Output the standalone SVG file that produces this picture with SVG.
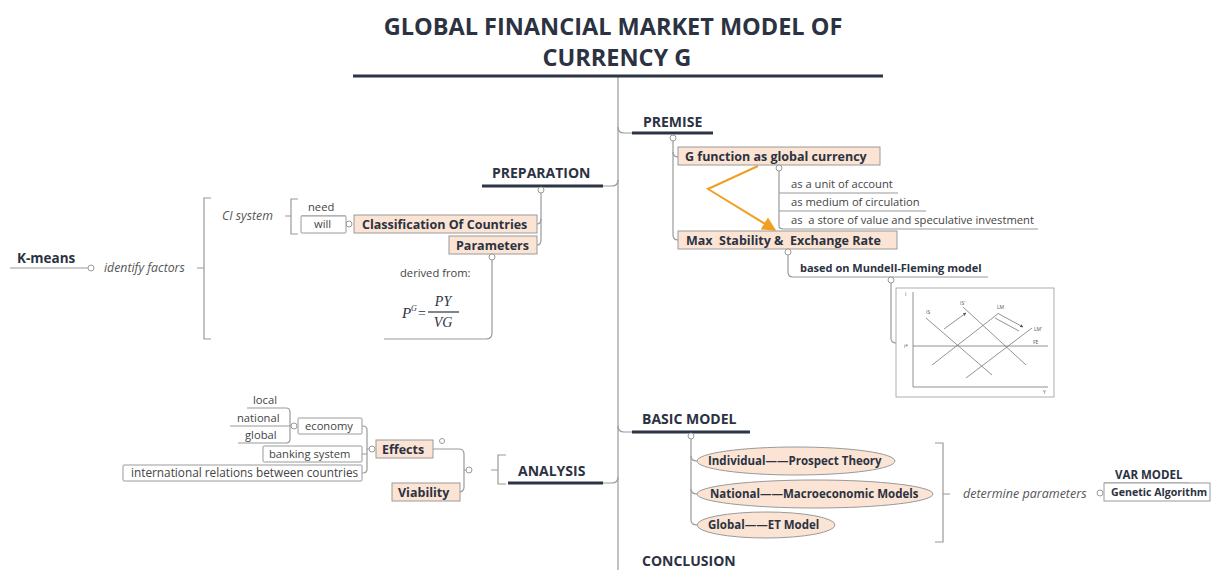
<svg xmlns="http://www.w3.org/2000/svg" width="1211" height="570" viewBox="0 0 1211 570">
<style>
text{font-family:"Open Sans","Liberation Sans",sans-serif;fill:#2b3242}
.title{font-size:23.5px;font-weight:bold;text-anchor:middle}
.main{font-size:14px;font-weight:bold}
.bt{font-size:12.5px;font-weight:bold}
.et{font-size:11.5px;font-weight:bold}
.st{font-size:11.2px;fill:#444}
.it{font-size:12.3px;font-style:italic;fill:#555}
.box{fill:#fbe4d3;stroke:#9a9a9a;stroke-width:1}
.wbox{fill:#fff;stroke:#9a9a9a;stroke-width:1}
.ln{fill:none;stroke:#9a9a9a;stroke-width:1.2}
.ul{stroke:#2b3545;stroke-width:3}
.dot{fill:#fff;stroke:#9a9a9a;stroke-width:1}
.g{fill:none;stroke:#777;stroke-width:0.8}
.gl{font-size:5px;fill:#555}
.mf{font-family:"Liberation Serif",serif;font-style:italic;font-size:14px}
</style>
<defs>
<marker id="oa" viewBox="0 0 10 10" refX="9" refY="5" markerWidth="7" markerHeight="7" orient="auto"><path d="M0,0 L10,5 L0,10 z" fill="#f0a020"/></marker>
<marker id="ga" viewBox="0 0 10 10" refX="9" refY="5" markerWidth="4" markerHeight="4" orient="auto"><path d="M0,0 L10,5 L0,10 z" fill="#555"/></marker>
</defs>
<rect width="1211" height="570" fill="#fff"/>

<g id="connectors">
<path class="ln" d="M618,76 V570"/>
<path class="ln" d="M618,127 Q618,133 624,133 H632"/>
<path class="ln" d="M603,186 H612 Q618,186 618,180"/>
<path class="ln" d="M603,483 H612 Q618,483 618,477"/>
<path class="ln" d="M618,426 Q618,432 624,432 H632"/>
<path class="ln" d="M673,141 V235 Q673,240 678,240"/>
<path class="ln" d="M673,152 Q673,157 678,157"/>
<path class="ln" d="M779,171 V226 Q779,229 784,229 H1038"/>
<path class="ln" d="M779,193 H898 M779,211 H926"/>
<path class="ln" d="M788,255 V272 Q788,277 793,277 H988"/>
<path class="ln" d="M891,283 V338 Q891,343 896,343"/>
<path d="M758,166 L708,189 L775,230" fill="none" stroke="#f0a020" stroke-width="2" marker-end="url(#oa)"/>
<path class="ln" d="M541,193 V240 Q541,245 537,245"/>
<path class="ln" d="M541,219 Q541,224 537,224"/>
<path class="ln" d="M492,260 V333 Q492,339 486,339 H384"/>
<path class="ln" d="M301,216 H346"/>
<path class="ln" d="M298,199 H291 V234 H298 M285,216 H291"/>
<path class="ln" d="M211,198 H204 V339 H211 M197,268 H204"/>
<path class="ln" d="M10,268 H88"/>
<path class="ln" d="M506,455 H498 V484 H506 M491,470 H498"/>
<path class="ln" d="M433,449 H459 Q464,449 464,454 V487 Q464,492 459,492 H460"/>
<path class="ln" d="M464,470 H466"/>
<path class="ln" d="M362,426 H363 Q367,426 367,430 V469 Q367,473 363,473 H362 M362,454 H367 M367,449 H369"/>
<path class="ln" d="M247,408 H286 Q290,408 290,412 V439 Q290,443 286,443 H238 M230,426 H291"/>
<path class="ln" d="M691,439 V520 Q691,525 697,525"/>
<path class="ln" d="M691,456 Q691,461 697,461 M691,489 Q691,494 697,494"/>
<path class="ln" d="M935,443 H943 V542 H935 M943,494 H950"/>
<path class="ln" d="M1104,483 H1189"/>
</g>

<g id="title">
<text class="title" x="613" y="35">GLOBAL FINANCIAL MARKET MODEL OF</text>
<text class="title" x="617" y="66">CURRENCY G</text>
<line class="ul" x1="353" y1="76" x2="883" y2="76"/>
</g>

<g id="premise">
<text class="main" x="643" y="127">PREMISE</text>
<line class="ul" x1="632" y1="133" x2="713" y2="133"/>
<circle class="dot" cx="673" cy="138" r="3"/>
</g>
<g id="g-function">
<rect class="box" x="678" y="147" width="202" height="18"/>
<text class="bt" x="685" y="160.5">G function as global currency</text>
<circle class="dot" cx="779" cy="168" r="3"/>
</g>
<g id="g-roles">
<text class="st" x="791" y="188">as a unit of account</text>
<text class="st" x="791" y="206">as medium of circulation</text>
<text class="st" x="791" y="224" xml:space="preserve">as  a store of value and speculative investment</text>
</g>
<g id="max-stability">
<rect class="box" x="678" y="231" width="219" height="18"/>
<text class="bt" x="686" y="244.5" xml:space="preserve">Max  Stability &amp;  Exchange Rate</text>
<circle class="dot" cx="788" cy="252" r="3"/>
</g>
<g id="mundell">
<text class="bt" x="800" y="272" style="font-size:11px">based on Mundell-Fleming model</text>
<circle class="dot" cx="891" cy="280" r="3"/>
</g>
<g id="mf-graph">
<rect x="896" y="288" width="158" height="109" fill="#fff" stroke="#999" stroke-width="0.8"/>
<path class="g" d="M913,292 V387 H1048"/>
<path class="g" d="M913,346 H1048"/>
<path class="g" d="M926,318 L992,375 M963,307 L1026,365 M932,365 L999,313 M966,378 L1032,328"/>
<path class="g" d="M944,329 L966,313" marker-end="url(#ga)"/>
<path class="g" d="M995,318 L1019,331 M999,314 L1023,327" marker-end="url(#ga)"/>
<text class="gl" x="905" y="296">i</text>
<text class="gl" x="904" y="348">i*</text>
<text class="gl" x="926" y="314">IS</text>
<text class="gl" x="960" y="305">IS'</text>
<text class="gl" x="997" y="309">LM</text>
<text class="gl" x="1034" y="331">LM'</text>
<text class="gl" x="1033" y="344">FE</text>
<text class="gl" x="1043" y="394">Y</text>
</g>

<g id="preparation">
<text class="main" x="492" y="178">PREPARATION</text>
<line class="ul" x1="482" y1="186" x2="603" y2="186"/>
<circle class="dot" cx="541" cy="190" r="3"/>
</g>
<g id="classification">
<rect class="box" x="354" y="215" width="183" height="18"/>
<text class="bt" x="362" y="228.5">Classification Of Countries</text>
<circle class="dot" cx="349" cy="224" r="3"/>
</g>
<g id="parameters">
<rect class="box" x="449" y="236" width="88" height="18"/>
<text class="bt" x="456" y="249.5">Parameters</text>
<circle class="dot" cx="492" cy="257" r="3"/>
</g>
<g id="need-will">
<text class="st" x="308" y="211">need</text>
<rect class="wbox" x="301" y="216" width="45" height="17" rx="1"/>
<text class="st" x="314" y="228">will</text>
</g>
<g id="ci-system">
<text class="it" x="222" y="220">CI system</text>
</g>
<g id="identify-factors">
<text class="it" x="104" y="272">identify factors</text>
<circle class="dot" cx="91" cy="268" r="3"/>
</g>
<g id="k-means">
<text class="bt" x="17" y="263" style="font-size:13.5px">K-means</text>
</g>
<g id="derived">
<text class="st" x="400" y="277">derived from:</text>
<text class="mf" x="402" y="318" style="font-size:15px">P</text>
<text class="mf" x="411" y="311" style="font-size:8px">G</text>
<text class="mf" x="418" y="318" style="font-style:normal">=</text>
<text class="mf" x="443" y="306" text-anchor="middle">PY</text>
<line x1="428" y1="312" x2="459" y2="312" stroke="#2b3242" stroke-width="1.2"/>
<text class="mf" x="443" y="327" text-anchor="middle">VG</text>
</g>

<g id="analysis">
<text class="main" x="518" y="476">ANALYSIS</text>
<line class="ul" x1="508" y1="483" x2="603" y2="483"/>
<circle class="dot" cx="469" cy="470" r="3"/>
</g>
<g id="effects">
<rect class="box" x="376" y="440" width="57" height="18"/>
<text class="bt" x="382" y="453.5">Effects</text>
<circle class="dot" cx="372" cy="449" r="3"/>
<circle class="dot" cx="442" cy="441" r="2.5"/>
</g>
<g id="viability">
<rect class="box" x="392" y="483" width="68" height="18"/>
<text class="bt" x="398" y="496.5">Viability</text>
</g>
<g id="economy">
<rect class="wbox" x="298" y="418" width="64" height="16" rx="1"/>
<text class="st" x="305" y="430">economy</text>
<circle class="dot" cx="294" cy="426" r="3"/>
</g>
<g id="banking">
<rect class="wbox" x="263" y="446" width="99" height="16" rx="1"/>
<text class="st" x="269" y="458">banking system</text>
</g>
<g id="international">
<rect class="wbox" x="123" y="465" width="239" height="16" rx="1"/>
<text class="st" x="131" y="477" style="font-size:11.8px">international relations between countries</text>
</g>
<g id="levels">
<text class="st" x="253" y="404">local</text>
<text class="st" x="237" y="422">national</text>
<text class="st" x="245" y="439">global</text>
</g>

<g id="basic-model">
<text class="main" x="642" y="424">BASIC MODEL</text>
<line class="ul" x1="632" y1="432" x2="750" y2="432"/>
<circle class="dot" cx="691" cy="436" r="3"/>
</g>
<g id="individual">
<ellipse class="box" cx="796" cy="461" rx="99" ry="14"/>
<text class="et" x="708" y="465">Individual——Prospect Theory</text>
</g>
<g id="national">
<ellipse class="box" cx="815" cy="494" rx="118" ry="14"/>
<text class="et" x="710" y="498">National——Macroeconomic Models</text>
</g>
<g id="global">
<ellipse class="box" cx="766" cy="525" rx="69" ry="13"/>
<text class="et" x="708" y="529">Global——ET Model</text>
</g>
<g id="determine">
<text class="it" x="963" y="498" style="font-size:12.5px">determine parameters</text>
<circle class="dot" cx="1100" cy="493" r="3"/>
</g>
<g id="var-model">
<text class="et" x="1115" y="479">VAR MODEL</text>
</g>
<g id="genetic">
<rect class="wbox" x="1104" y="483" width="106" height="18"/>
<text class="et" x="1111" y="496" style="font-size:10.6px">Genetic Algorithm</text>
</g>
<g id="conclusion">
<text class="main" x="642" y="566">CONCLUSION</text>
</g>
</svg>
